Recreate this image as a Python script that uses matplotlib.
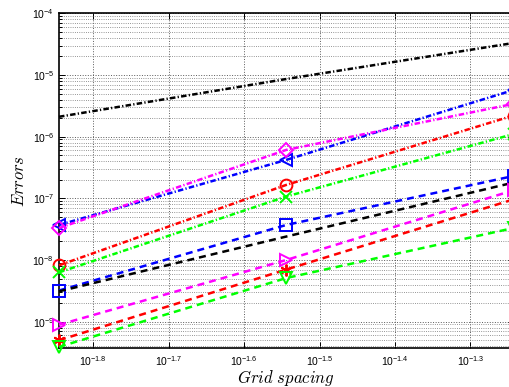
import numpy as np
import matplotlib
matplotlib.use("Agg")
import matplotlib.pyplot as plt
from matplotlib.ticker import FixedLocator, FixedFormatter, NullLocator

plt.rcParams['font.family'] = ['Liberation Sans', 'DejaVu Sans']
plt.rcParams['mathtext.fontset'] = 'custom'
plt.rcParams['mathtext.rm'] = 'Liberation Sans'
plt.rcParams['mathtext.it'] = 'Liberation Sans:italic'
plt.rcParams['mathtext.bf'] = 'Liberation Sans:bold'

# Grid spacing values
h = [1/70, 1/35, 1/17.5]

# Error series
err_k_dd = [2.1e-6, 8.6e-6, 3.3e-5]
err_b_tri = [3.7e-8, 4.2e-7, 5.7e-6]
err_m_dia = [3.3e-8, 6.1e-7, 3.4e-6]
err_r_circ = [8.2e-9, 1.65e-7, 2.2e-6]
err_g_x = [6.3e-9, 1.07e-7, 1.1e-6]
err_b_sq = [3.2e-9, 3.7e-8, 2.3e-7]
err_k_d = [3.1e-9, 2.4e-8, 1.8e-7]
err_m_rtri = [8.9e-10, 1.0e-8, 1.35e-7]
err_r_star = [5.0e-10, 7.0e-9, 9.6e-8]
err_g_v = [3.9e-10, 5.1e-9, 3.3e-8]

xtick_exps = ['-1.8', '-1.7', '-1.6', '-1.5', '-1.4', '-1.3']
ytick_exps = ['-9', '-8', '-7', '-6', '-5', '-4']

W, H = 509, 387
fig = plt.figure(figsize=(W/100, H/100), dpi=100)
left, right, top, bottom = 59, 513.5, 13.3, 348.3
ax = fig.add_axes([left/W, 1 - bottom/H, (right-left)/W, (bottom-top)/H])
ax.set_xscale('log')
ax.set_yscale('log')

dd = (2.2, 0.9, 0.5, 0.9)   # dash-dot
da = (2.8, 2.0)             # dashed
lw = 1.8
ms = 8.5
mew = 1.4
G = (0, 1, 0)
M = (1, 0, 1)

series = [
    (err_k_dd, 'k', None, dd),
    (err_b_tri, 'b', '<', dd),
    (err_m_dia, M, 'D', dd),
    (err_r_circ, 'r', 'o', dd),
    (err_g_x, G, 'x', dd),
    (err_b_sq, 'b', 's', da),
    (err_k_d, 'k', None, da),
    (err_m_rtri, M, '>', da),
    (err_r_star, 'r', (6, 2, 0), da),
    (err_g_v, G, 'v', da),
]
for vals, c, mk, dash in series:
    line, = ax.plot(h, vals, color=c, lw=lw, marker=mk, ms=ms if mk != 'D' else ms*0.85,
                    mfc='none', mec=c, mew=mew, clip_on=False, zorder=3)
    line.set_linestyle((0, dash))

ax.set_xlim(1/70, 1/17.5)
ax.set_ylim(3.7e-10, 1e-4)

ax.xaxis.set_major_locator(FixedLocator([10**float(e) for e in xtick_exps]))
ax.xaxis.set_major_formatter(FixedFormatter([r'$\mathdefault{10^{%s}}$' % e for e in xtick_exps]))
ax.xaxis.set_minor_locator(NullLocator())
ax.yaxis.set_major_locator(FixedLocator([10**float(e) for e in ytick_exps]))
ax.yaxis.set_major_formatter(FixedFormatter([r'$\mathdefault{10^{%s}}$' % e for e in ytick_exps]))
yminor = [m * 10**k for k in range(-10, -4) for m in range(2, 10)]
yminor = [v for v in yminor if 3.7e-10 <= v <= 1e-4]
ax.yaxis.set_minor_locator(FixedLocator(yminor))

ax.tick_params(which='both', direction='in', top=True, right=True, labelsize=7.5, width=0.7)
ax.tick_params(which='major', length=4)
ax.tick_params(which='minor', length=2)
ax.tick_params(axis='x', pad=4)
ax.grid(True, which='major', linestyle=':', color='0.35', lw=0.7)
ax.grid(True, which='minor', axis='y', linestyle=':', color='0.45', lw=0.6)
for s in ax.spines.values():
    s.set_linewidth(1.2)

ax.set_xlabel(r'$Grid\ spacing$', fontsize=12, labelpad=0, math_fontfamily='cm')
ax.set_ylabel(r'$Errors$', fontsize=12, labelpad=4, math_fontfamily='cm')

fig.savefig('out.png', dpi=100)
